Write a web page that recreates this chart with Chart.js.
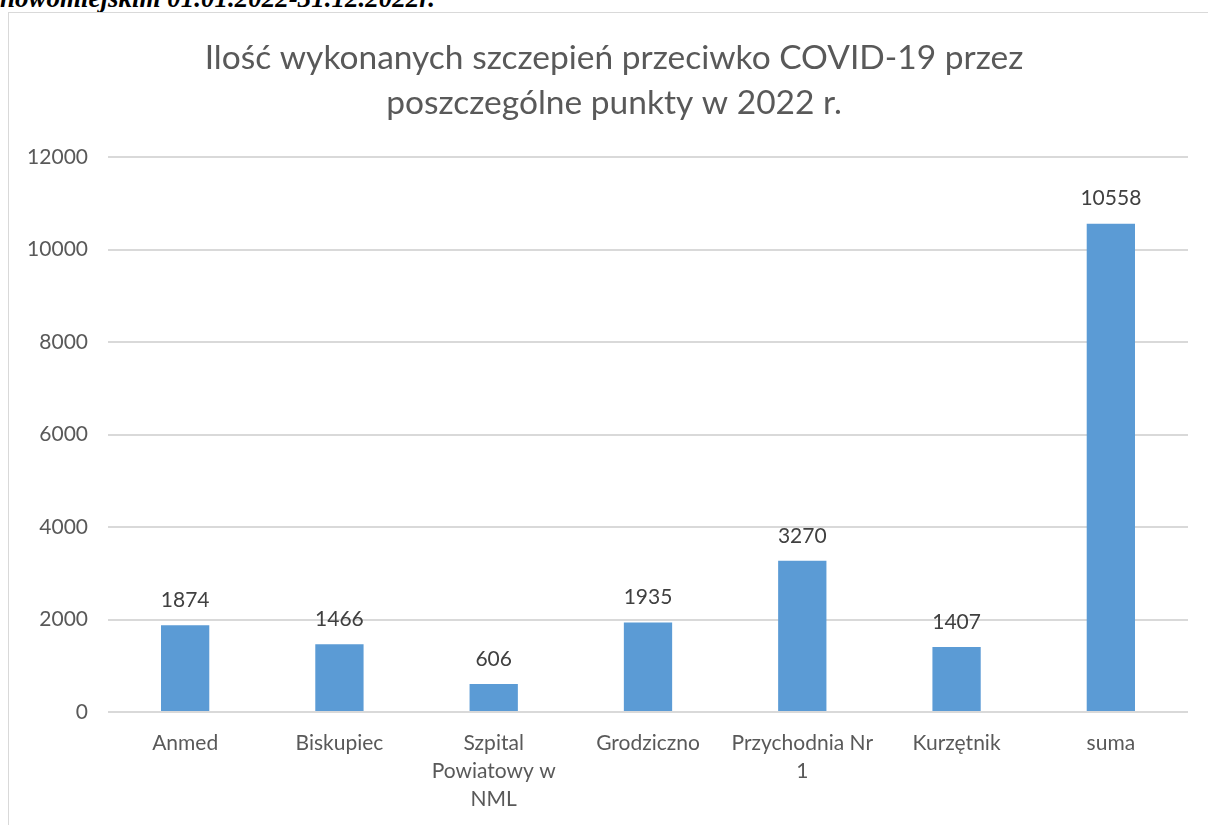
<!DOCTYPE html>
<html>
<head>
<meta charset="utf-8">
<script src="https://cdn.jsdelivr.net/npm/chart.js@4/dist/chart.umd.min.js"></script>
<style>
    html, body { margin: 0; padding: 0; background: #fff; overflow: hidden; }
    #caption {
        position: absolute; left: 0; top: -17px;
        font: italic bold 27px "Liberation Serif", "Times New Roman", serif;
        color: #000; white-space: nowrap;
    }
    #box {
        position: absolute; left: 8px; top: 12px;
        width: 1210px; height: 820px;
        border: 1px solid #d9d9d9;
    }
</style>
</head>
<body>
<div id="caption">nowomiejskim 01.01.2022-31.12.2022r.</div>
<div id="box"><canvas id="chart" width="1210" height="820"></canvas></div>

<script>
    // data
    var categories = ['Anmed', 'Biskupiec', ['Szpital', 'Powiatowy w', 'NML'], 'Grodziczno', ['Przychodnia Nr', '1'], 'Kurzętnik', 'suma'];
    var vaccinations = [1874, 1466, 606, 1935, 3270, 1407, 10558];
    var yTicks = [0, 2000, 4000, 6000, 8000, 10000, 12000];
    var titleLines = ['Ilość wykonanych szczepień przeciwko COVID-19 przez', 'poszczególne punkty w 2022 r.'];

    var FONT = 'Lato, "Open Sans", sans-serif';

    // title centred on the whole chart object, like Excel does
    var chartTitle = {
        id: 'chartTitle',
        afterDraw(chart) {
            var ctx = chart.ctx;
            ctx.save();
            ctx.font = '400 33.5px ' + FONT;
            ctx.fillStyle = '#595959';
            ctx.textAlign = 'center';
            ctx.textBaseline = 'middle';
            titleLines.forEach((line, i) => {
                ctx.fillText(line, chart.width / 2, 45 + i * 45);
            });
            ctx.restore();
        }
    };

    // value labels above the bars
    var barLabels = {
        id: 'barLabels',
        afterDatasetsDraw(chart) {
            var ctx = chart.ctx;
            var meta = chart.getDatasetMeta(0);
            ctx.save();
            ctx.font = '21px ' + FONT;
            ctx.fillStyle = '#404040';
            ctx.textAlign = 'center';
            ctx.textBaseline = 'middle';
            meta.data.forEach((bar, i) => {
                ctx.fillText(String(chart.data.datasets[0].data[i]), bar.x, bar.y - 25);
            });
            ctx.restore();
        }
    };

    var ctx = document.getElementById('chart').getContext('2d');
    new Chart(ctx, {
        type: 'bar',
        data: {
            labels: categories,
            datasets: [{
                label: 'szczepienia',
                data: vaccinations,
                backgroundColor: '#5b9bd5',
                borderWidth: 0,
                categoryPercentage: 1,
                barPercentage: 0.313
            }]
        },
        plugins: [barLabels, chartTitle],
        options: {
            responsive: false,
            animation: false,
            layout: {
                padding: { left: 0, right: 31, top: 144, bottom: 0 }
            },
            plugins: {
                legend: { display: false },
                tooltip: { enabled: false },
                title: { display: false }
            },
            scales: {
                x: {
                    grid: { display: false, drawTicks: false },
                    border: { display: false },
                    ticks: {
                        color: '#595959',
                        font: { family: FONT, size: 21, lineHeight: 1.33 },
                        padding: 17,
                        maxRotation: 0,
                        autoSkip: false
                    },
                    afterFit(scale) { scale.height = 121; }
                },
                y: {
                    min: 0,
                    max: 12000,
                    afterBuildTicks(scale) { scale.ticks = yTicks.map(v => ({ value: v })); },
                    grid: { color: '#d9d9d9', lineWidth: 2, drawTicks: false },
                    border: { display: false },
                    ticks: {
                        color: '#595959',
                        font: { family: FONT, size: 21 },
                        padding: 20,
                        callback: v => String(v)
                    },
                    afterFit(scale) { scale.width = 99; }
                }
            }
        }
    });
</script>
</body>
</html>
